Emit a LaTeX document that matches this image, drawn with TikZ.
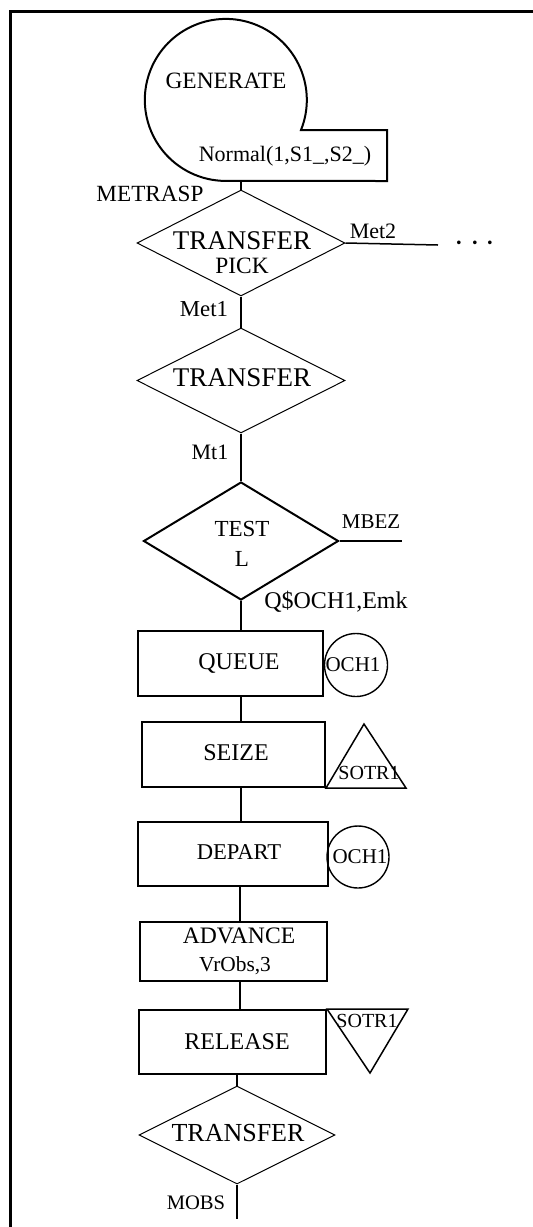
\documentclass[tikz,border=0pt]{standalone}
\usepackage{fontspec}
\setmainfont{Liberation Serif}
\usetikzlibrary{shapes.geometric}

\tikzset{
	blok/.style = {draw, line width = 1pt, inner sep = 0pt, minimum width = #1},
	romb/.style = {draw, diamond, inner sep = 0pt},
	kolo/.style = {draw, circle, line width = 0.7pt, inner sep = 0pt, minimum size = #1},
	txt/.style = {inner sep = 0pt, text height = 0.66em, text depth = 0pt, font = \fontsize{#1}{#1}\selectfont},
}

\begin{document}
\begin{tikzpicture}[x = 0.5pt, y = 0.5pt, line width = 0.75pt]
			\def\dx{241};
			\useasboundingbox (0,0) rectangle (533,-1227);

			% frame
			\draw[line width = 1.5pt] (10.5,-1227) -- (10.5,-11.5) -- (533,-11.5);

			% GENERATE
			\draw[line width = 1pt]
				(387,-130) -- (301,-130)
				arc [start angle = -21.8, end angle = 270, radius = 40.5pt]
				-- (387,-181) -- cycle;
			\coordinate (gen) at (\dx,-181);
			\node[txt = 11.7] (gentxt) at (226,-82) {GENERATE};
			\node[txt = 11] (gennorm) at (285,-155) {Normal(1,S1\_,S2\_)};

			% transfer blocks
			\node[romb, line width = 0.5pt, minimum width = 104pt, minimum height = 53pt] (pick) at (\dx,-243) {};
			\node[romb, line width = 0.5pt, minimum width = 104pt, minimum height = 52.5pt] (tr) at (\dx,-380.5) {};
			\node[romb, line width = 1pt, minimum width = 97.5pt, minimum height = 59pt] (test) at (\dx,-541) {};

			\node[txt = 11.6] (metrasp) at (150,-195) {METRASP};
			\node[txt = 13.5] (picktxt) at (242,-243) {TRANSFER};
			\node[txt = 11.7] (pickarg) at (242,-267) {PICK};
			\node[txt = 11] (met2) at (373,-232) {Met2};
			\node[txt = 17] (dots) at (475,-245) {$\cdots$};
			\node[txt = 11.4] (met1) at (204,-310) {Met1};
			\node[txt = 13.5] (trtxt) at (242,-380) {TRANSFER};
			\node[txt = 11] (mt1) at (210,-453) {Mt1};
			\node[txt = 11.5] (testtxt) at (242,-530) {TEST};
			\node[txt = 11.5] (testarg) at (242,-560) {L};
			\node[txt = 10.5] (mbez) at (371,-522) {MBEZ};
			\node[txt = 12] (qarg) at (336,-602) {Q\$OCH1,Emk};

			\coordinate (m2) at (438,-245);
			\coordinate (mb) at (402,-541);
			\draw (gen) -- (pick.north);
			\draw (pick.east) -- (m2);
			\draw (pick.south) -- (tr.north);
			\draw (tr.south) -- (test.north);
			\draw (test.east) -- (mb);

			% blocks
			\node[blok = 92.5pt, minimum height = 32.5pt] (queue) at (230.5,-663.5) {};
			\node[blok = 91.5pt, minimum height = 32.5pt] (seize) at (233.5,-754.5) {};
			\node[blok = 95pt, minimum height = 32pt] (depart) at (233,-854) {};
			\node[blok = 93.5pt, minimum height = 29.5pt] (advance) at (233.5,-951.5) {};
			\node[blok = 93.5pt, minimum height = 32pt] (release) at (232.5,-1042) {};

			\node[txt = 12] (queuetxt) at (239,-663) {QUEUE};
			\node[txt = 12] (seizetxt) at (236,-754) {SEIZE};
			\node[txt = 11.3] (departtxt) at (239,-853) {DEPART};
			\node[txt = 11.8] (advtxt) at (239,-937) {ADVANCE};
			\node[txt = 10.7] (advarg) at (235,-965) {VrObs,3};
			\node[txt = 12] (reltxt) at (237,-1043) {RELEASE};

			\draw (test.south) -- (test.south |- queue.north);
			\draw (queue.south -| \dx,0) -- (seize.north -| \dx,0);
			\draw (seize.south -| \dx,0) -- (depart.north -| \dx,0);
			\draw (depart.south -| 240,0) -- (advance.north -| 240,0);
			\draw (advance.south -| 240,0) -- (release.north -| 240,0);

			% queue and storage
			\node[kolo = 31.5pt] (och1) at (356,-665) {};
			\node[txt = 10.5] (och1txt) at (353,-665) {OCH1};
			\node[kolo = 31pt] (och2) at (358,-857) {};
			\node[txt = 10.5] (och2txt) at (360,-857) {OCH1};

			\draw (seize.south east) -- ++(38,64) -- ++(42,-64) -- cycle;
			\node[txt = 10] (sotr1) at (369,-773) {SOTR1};
			\draw (release.north east) -- ++(81,0) -- ++(-38,-64) -- cycle;
			\node[txt = 10] (sotr2) at (367,-1021) {SOTR1};

			% exit transfer
			\node[romb, line width = 0.5pt, minimum width = 98pt, minimum height = 49pt] (trout) at (237,-1135) {};
			\node[txt = 13] (trouttxt) at (238,-1135) {TRANSFER};
			\node[txt = 10.3] (mobs) at (196,-1203) {MOBS};
			\coordinate (mo) at (237,-1219);

			\draw (release.south -| 237,0) -- (trout.north);
			\draw (trout.south) -- (mo);
		\end{tikzpicture}
\end{document}
